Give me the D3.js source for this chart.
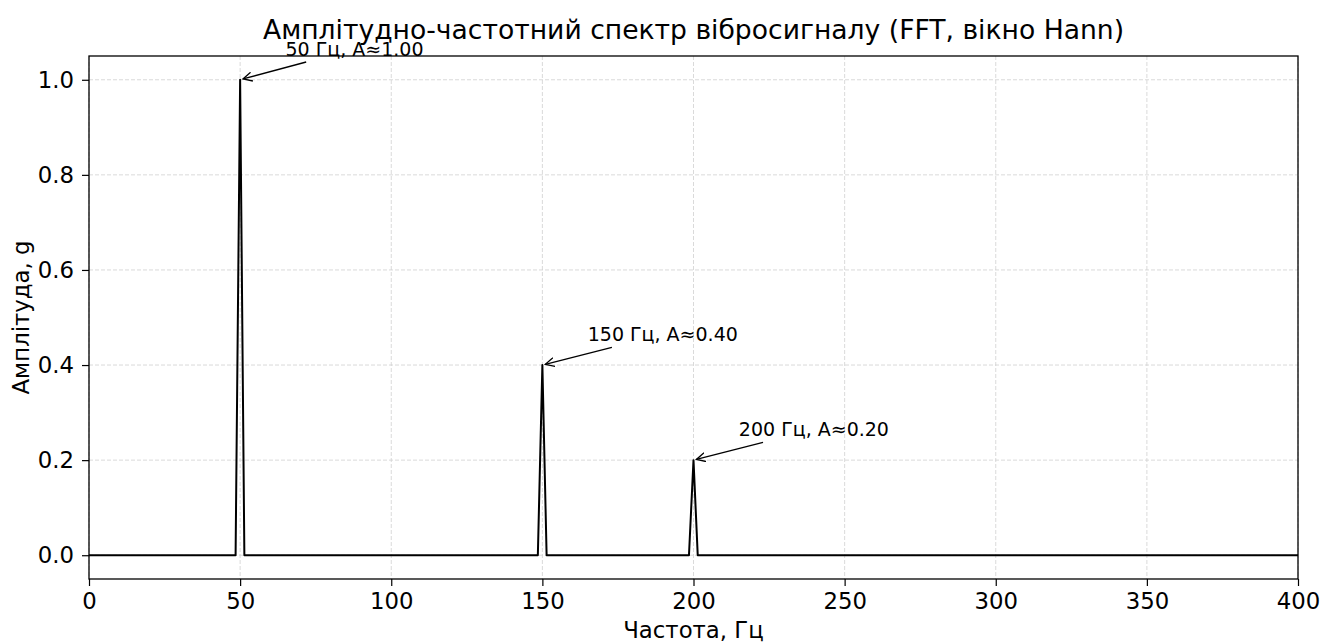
<!DOCTYPE html>
<html>
<head>
<meta charset="utf-8">
<script src="https://cdn.jsdelivr.net/npm/d3@7"></script>
<style>
  body { margin: 0; background: #fff; }
  svg { font-family: "DejaVu Sans", sans-serif; }
</style>
</head>
<body>
<svg width="1336" height="643"></svg>
<script>
// spectrum vertices (Hz, g)
const specFreq = [0, 48.5, 50, 51.4, 148.5, 150, 151.4, 198.5, 200, 201.4, 400];
const specAmp = [0, 0, 1.0, 0, 0, 0.4, 0, 0, 0.2, 0, 0];

// annotated peaks
const peakFreq = [50, 150, 200];
const peakAmp = [1.0, 0.4, 0.2];
const peakLabel = ["50 Гц, A≈1.00", "150 Гц, A≈0.40", "200 Гц, A≈0.20"];

const xTicks = [0, 50, 100, 150, 200, 250, 300, 350, 400];
const yTicks = [0, 0.2, 0.4, 0.6, 0.8, 1.0];

const mLeft = 89, mRight = 1298, mTop = 56, mBottom = 579;

let x = d3.scaleLinear().domain([0, 400]).range([mLeft, mRight]);
let y = d3.scaleLinear().domain([-0.05, 1.05]).range([mBottom, mTop]);

let svg = d3.select("svg");

svg.append("defs").append("marker")
  .attr("id", "arr")
  .attr("viewBox", "0 0 10 10")
  .attr("refX", 9).attr("refY", 5)
  .attr("markerWidth", 10).attr("markerHeight", 10)
  .attr("markerUnits", "userSpaceOnUse")
  .attr("orient", "auto")
  .append("path")
  .attr("d", "M0,0.5 L9,5 L0,9.5")
  .attr("fill", "none")
  .attr("stroke", "#000")
  .attr("stroke-width", 1.3);

// grid
svg.append("g").selectAll("line").data(xTicks).enter().append("line")
  .attr("x1", d => x(d)).attr("x2", d => x(d))
  .attr("y1", mTop).attr("y2", mBottom)
  .attr("stroke", "#d0d0d0").attr("stroke-width", 0.8)
  .attr("stroke-dasharray", "4,2");
svg.append("g").selectAll("line").data(yTicks).enter().append("line")
  .attr("x1", mLeft).attr("x2", mRight)
  .attr("y1", d => y(d)).attr("y2", d => y(d))
  .attr("stroke", "#d0d0d0").attr("stroke-width", 0.8)
  .attr("stroke-dasharray", "4,2");

// spectrum
let line = d3.line()
  .x((d, i) => x(specFreq[i]))
  .y((d, i) => y(specAmp[i]));
svg.append("path")
  .datum(specFreq)
  .attr("d", line)
  .attr("fill", "none")
  .attr("stroke", "#000")
  .attr("stroke-width", 2)
  .attr("stroke-linejoin", "round");

// axes
let xAxis = d3.axisBottom(x).tickValues(xTicks).tickSize(7).tickPadding(7).tickFormat(d3.format("d"));
let yAxis = d3.axisLeft(y).tickValues(yTicks).tickSize(7).tickPadding(8).tickFormat(d3.format(".1f"));

let gx = svg.append("g").attr("transform", `translate(0, ${mBottom})`).call(xAxis);
let gy = svg.append("g").attr("transform", `translate(${mLeft}, 0)`).call(yAxis);
[gx, gy].forEach(g => {
  g.select(".domain").remove();
  g.selectAll("line").attr("stroke", "#000").attr("stroke-width", 1.2);
  g.selectAll("text").attr("font-size", 22.8).attr("fill", "#000").attr("font-family", "DejaVu Sans");
});

svg.append("rect")
  .attr("x", mLeft).attr("y", mTop)
  .attr("width", mRight - mLeft).attr("height", mBottom - mTop)
  .attr("fill", "none").attr("stroke", "#000").attr("stroke-width", 1.3);

// title and labels
svg.append("text")
  .attr("x", (mLeft + mRight) / 2).attr("y", 39)
  .attr("text-anchor", "middle").attr("font-size", 26.6)
  .text("Амплітудно-частотний спектр вібросигналу (FFT, вікно Hann)");

svg.append("text")
  .attr("x", (mLeft + mRight) / 2).attr("y", 638)
  .attr("text-anchor", "middle").attr("font-size", 22.8)
  .text("Частота, Гц");

svg.append("text")
  .attr("transform", `translate(29, ${(mTop + mBottom) / 2}) rotate(-90)`)
  .attr("text-anchor", "middle").attr("font-size", 22.8)
  .text("Амплітуда, g");

// annotations
peakFreq.forEach((f, i) => {
  let t = svg.append("text")
    .attr("x", x(f + 15)).attr("y", y(peakAmp[i] + 0.05))
    .attr("font-size", 19)
    .text(peakLabel[i]);
  let b = t.node().getBBox();
  let cx = b.x + b.width / 2, cy = b.y + b.height / 2;
  let px = x(f), py = y(peakAmp[i]);
  // start of arrow just below text box
  let sy = b.y + b.height + 2;
  let k = (sy - cy) / (py - cy);
  let sx = cx + k * (px - cx);
  let dx = px - sx, dy = py - sy, len = Math.hypot(dx, dy);
  let ex = px - dx / len * 3, ey = py - dy / len * 3;
  svg.append("line")
    .attr("x1", sx).attr("y1", sy).attr("x2", ex).attr("y2", ey)
    .attr("stroke", "#000").attr("stroke-width", 1.3)
    .attr("marker-end", "url(#arr)");
});
</script>
</body>
</html>
